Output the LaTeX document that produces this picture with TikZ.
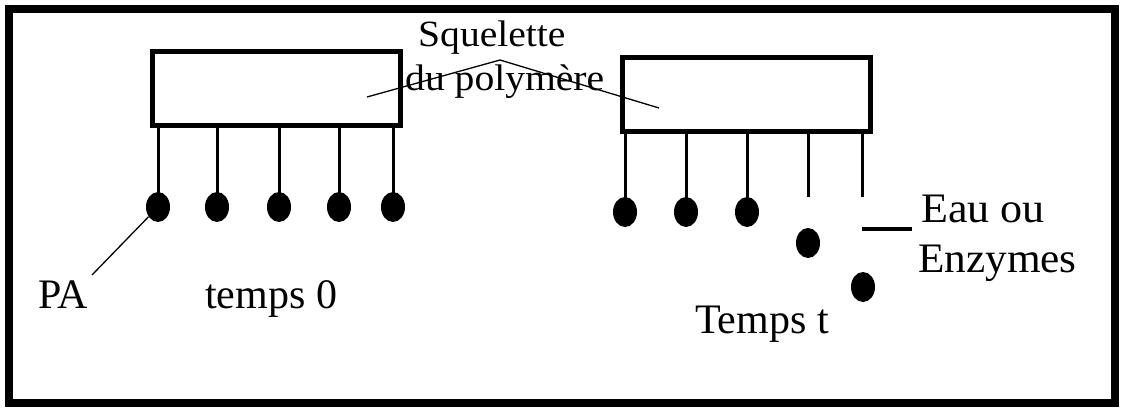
\documentclass[tikz,border=0pt]{standalone}
\usepackage{fontspec}
\setmainfont{Liberation Serif}
\usetikzlibrary{shapes.geometric}
\begin{document}
\begin{tikzpicture}[x=1pt,y=-1pt,
  frame/.style={line width=8pt},
  chain/.style={draw, line width=5pt, minimum width=248pt, minimum height=74pt, inner sep=0pt},
  stem/.style={line width=3pt},
  bead/.style={ellipse, fill=black, minimum width=24pt, minimum height=30pt, inner sep=0pt},
  leader/.style={line width=1.3pt},
  lbl/.style={font=\fontsize{42}{48}\selectfont, anchor=base west, inner sep=0pt},
  small/.style={font=\fontsize{37}{42}\selectfont, anchor=base west, inner sep=0pt, xscale=1.07}
]
\useasboundingbox (0,0) rectangle (1124,409);
\draw[frame] (9,9) rectangle (1115,403);

% polymer backbones
\node[chain] (b0) at (276,89) {};
\node[chain] (bt) at (746,95) {};

% side groups at time 0
\foreach \i/\x in {1/158,2/217,3/279,4/339,5/393}{
  \node[bead] (a\i) at (\x,207) {};
  \draw[stem] (a\i.center |- b0.south) -- (a\i.center);
}

% side groups at time t
\foreach \i/\x in {1/625,2/686,3/747}{
  \node[bead] (c\i) at (\x,212) {};
  \draw[stem] (c\i.center |- bt.south) -- (c\i.center);
}
\coordinate (s4) at (808,197);
\coordinate (s5) at (862,197);
\draw[stem] (s4 |- bt.south) -- (s4);
\draw[stem] (s5 |- bt.south) -- (s5);
\node[bead] (c4) at (808,243) {};
\node[bead] (c5) at (863,287) {};

% water / enzyme mark
\coordinate (w1) at (862,229);
\coordinate (w2) at (912,229);
\draw[line width=4pt] (w1) -- (w2);

% labels
\node[small] (sq) at (418,47) {Squelette};
\node[small] (dp) at (405,91) {du polymère};
\node[lbl] (pa) at (38,308) {PA};
\node[lbl] (t0) at (205,308) {temps 0};
\node[lbl] (tt) at (695,333) {Temps t};
\node[lbl, xscale=1.05] (eau) at (921,222) {Eau ou};
\node[lbl, xscale=1.03] (enz) at (918,272) {Enzymes};

% leaders
\coordinate (l0) at (367,97);
\coordinate (pk) at (500,60);
\coordinate (lt) at (659,108);
\draw[leader] (l0) -- (pk) -- (lt);
\coordinate (pl) at (92,275);
\draw[leader] (pl) -- (a1);
\end{tikzpicture}
\end{document}
